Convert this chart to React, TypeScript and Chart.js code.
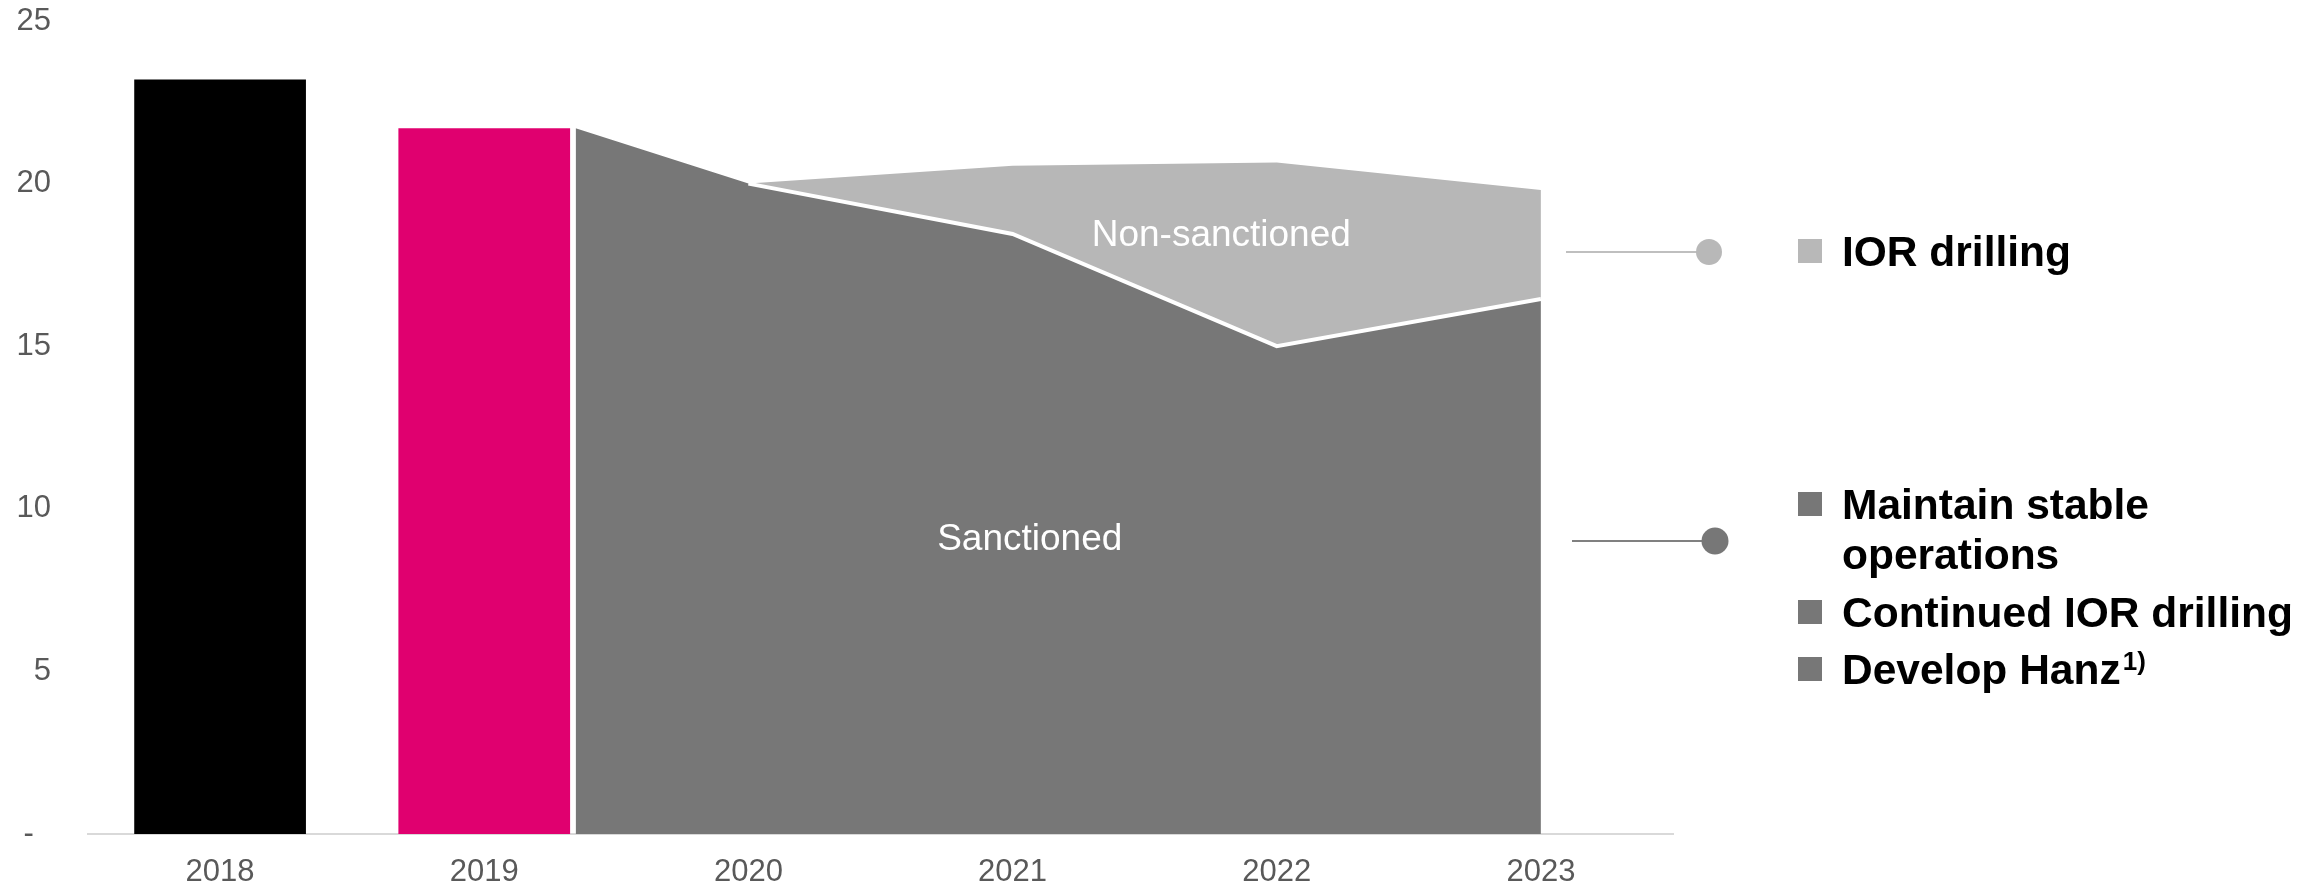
import React, { useEffect, useRef } from 'react';
import { Chart, registerables } from 'chart.js';

Chart.register(...registerables);

// ---------- data ----------
const YEARS = ['2018', '2019', '2020', '2021', '2022', '2023'];
const Y_TICK_LABELS = ['-  ', '5', '10', '15', '20', '25'];

const ACTUAL_YEAR_IDX = [0, 1];
const ACTUAL_VALUES = [23.2, 21.7];
const ACTUAL_COLORS = ['#000000', '#E0006F'];

const FORECAST_YEAR_IDX = [2, 3, 4, 5];
const SANCTIONED_START = 21.7; // where the sanctioned area joins the 2019 bar
const SANCTIONED = [20.0, 18.45, 15.0, 16.45];
const NON_SANCTIONED_TOP = [20.0, 20.55, 20.65, 19.8];

const AREA_LABELS = [
  { text: 'Non-sanctioned', x: 3.79, y: 18.4 },
  { text: 'Sanctioned', x: 3.065, y: 9.04 },
];

const LEGEND_ROWS = [
  { color: '#b8b8b8', lines: ['IOR drilling'], sup: '' },
  { color: '#777777', lines: ['Maintain stable', 'operations'], sup: '' },
  { color: '#777777', lines: ['Continued IOR drilling'], sup: '' },
  { color: '#777777', lines: ['Develop Hanz'], sup: '1)' },
];

// ---------- styling / layout ----------
const FONT = '"Liberation Sans", Arial, sans-serif';
const BAR_PCT = 0.65;
const AREA_GAP = 0.021;
const W = 2323;
const H = 888;

const LEGEND_BASELINES = [[266], [519, 569], [627], [684]];
const CONNECTORS = [
  { y: 252, x0: 1566, x1: 1709, r: 13, line: '#bfbfbf', dot: '#b8b8b8' },
  { y: 541, x0: 1572, x1: 1715, r: 13.5, line: '#808080', dot: '#777777' },
];

const overlayPlugin = {
  id: 'overlay',
  afterDraw(chart: any) {
    const ctx = chart.ctx as CanvasRenderingContext2D;
    const xs = chart.scales.x;
    const ys = chart.scales.y;
    ctx.save();
    // labels inside areas
    ctx.fillStyle = '#ffffff';
    ctx.font = `37px ${FONT}`;
    ctx.textAlign = 'center';
    ctx.textBaseline = 'middle';
    AREA_LABELS.forEach((l) => {
      ctx.fillText(l.text, xs.getPixelForValue(l.x), ys.getPixelForValue(l.y));
    });

    // connectors
    CONNECTORS.forEach((c) => {
      ctx.strokeStyle = c.line;
      ctx.lineWidth = 2;
      ctx.beginPath();
      ctx.moveTo(c.x0, c.y);
      ctx.lineTo(c.x1, c.y);
      ctx.stroke();
      ctx.fillStyle = c.dot;
      ctx.beginPath();
      ctx.arc(c.x1, c.y, c.r, 0, Math.PI * 2);
      ctx.fill();
    });

    // legend
    ctx.textAlign = 'left';
    ctx.textBaseline = 'alphabetic';
    LEGEND_ROWS.forEach((row, i) => {
      const bases = LEGEND_BASELINES[i];
      const capCenter = bases[0] - 15;
      ctx.fillStyle = row.color;
      ctx.fillRect(1798, capCenter - 12, 24, 24);
      ctx.fillStyle = '#000000';
      ctx.font = `bold 42.5px ${FONT}`;
      row.lines.forEach((t, j) => {
        ctx.fillText(t, 1842, bases[j]);
      });
      if (row.sup) {
        const last = row.lines[row.lines.length - 1];
        const w = ctx.measureText(last).width;
        ctx.font = `bold 26px ${FONT}`;
        ctx.fillText(row.sup, 1842 + w + 2, bases[bases.length - 1] - 14);
      }
    });
    ctx.restore();
  },
};

export default function App() {
  const ref = useRef<HTMLCanvasElement | null>(null);

  useEffect(() => {
    if (!ref.current) return;
    const barData = ACTUAL_YEAR_IDX.map((x, i) => ({ x, y: ACTUAL_VALUES[i] }));
    const sanctionedData = [
      { x: ACTUAL_YEAR_IDX[1] + BAR_PCT / 2 + AREA_GAP, y: SANCTIONED_START },
      ...FORECAST_YEAR_IDX.map((x, i) => ({ x, y: SANCTIONED[i] })),
    ];
    const sanctionedOutline = FORECAST_YEAR_IDX.map((x, i) => ({ x, y: SANCTIONED[i] }));
    const nonSanctionedData = FORECAST_YEAR_IDX.map((x, i) => ({ x, y: NON_SANCTIONED_TOP[i] }));

    const chart = new Chart(ref.current, {
      type: 'bar',
      data: {
        datasets: [
          {
            type: 'bar',
            label: 'Actual',
            data: barData as any,
            backgroundColor: ACTUAL_COLORS,
            borderWidth: 0,
            barPercentage: BAR_PCT,
            categoryPercentage: 1,
          },
          {
            type: 'line',
            label: 'Sanctioned outline',
            data: sanctionedOutline as any,
            fill: false,
            borderColor: '#ffffff',
            borderWidth: 4,
            pointRadius: 0,
            tension: 0,
          } as any,
          {
            type: 'line',
            label: 'Sanctioned',
            data: sanctionedData as any,
            fill: 'origin',
            backgroundColor: '#777777',
            borderColor: 'rgba(0,0,0,0)',
            borderWidth: 0,
            pointRadius: 0,
            tension: 0,
          } as any,
          {
            type: 'line',
            label: 'Non-sanctioned',
            data: nonSanctionedData as any,
            fill: '-1',
            backgroundColor: '#b7b7b7',
            borderWidth: 0,
            borderColor: 'rgba(0,0,0,0)',
            pointRadius: 0,
            tension: 0,
          } as any,
        ],
      },
      options: {
        responsive: false,
        animation: false,
        events: [],
        devicePixelRatio: 1,
        layout: { padding: { top: 21, right: 650, left: 0, bottom: 0 } },
        plugins: {
          legend: { display: false },
          tooltip: { enabled: false },
        },
        scales: {
          x: {
            type: 'linear',
            min: -0.5,
            max: 5.5,
            offset: false,
            grid: { display: false, drawTicks: false, offset: false },
            border: { display: true, color: '#d9d9d9', width: 2 },
            afterBuildTicks: (s: any) => {
              s.ticks = YEARS.map((_, i) => ({ value: i }));
            },
            ticks: {
              autoSkip: false,
              maxRotation: 0,
              padding: 20,
              color: '#595959',
              font: { family: FONT, size: 31 },
              callback: (v: any) => YEARS[Math.round(v as number)] ?? '',
            },
            afterFit: (s: any) => {
              s.height = 54;
              s.paddingLeft = 0;
              s.paddingRight = 0;
            },
          },
          y: {
            min: 0,
            max: 25,
            grid: { display: false, drawTicks: false },
            border: { display: false },
            ticks: {
              stepSize: 5,
              padding: 37,
              color: '#595959',
              font: { family: FONT, size: 31 },
              callback: (v: any) => Y_TICK_LABELS[Math.round((v as number) / 5)] ?? '',
            },
            afterFit: (s: any) => {
              s.width = 88;
              s.paddingTop = 0;
              s.paddingBottom = 0;
            },
          },
        },
      } as any,
      plugins: [overlayPlugin],
    });
    return () => chart.destroy();
  }, []);

  return (
    <div style={{ position: 'fixed', left: 0, top: 0, width: W, height: H, background: '#ffffff' }}>
      <canvas ref={ref} width={W} height={H} style={{ display: 'block' }} />
    </div>
  );
}
